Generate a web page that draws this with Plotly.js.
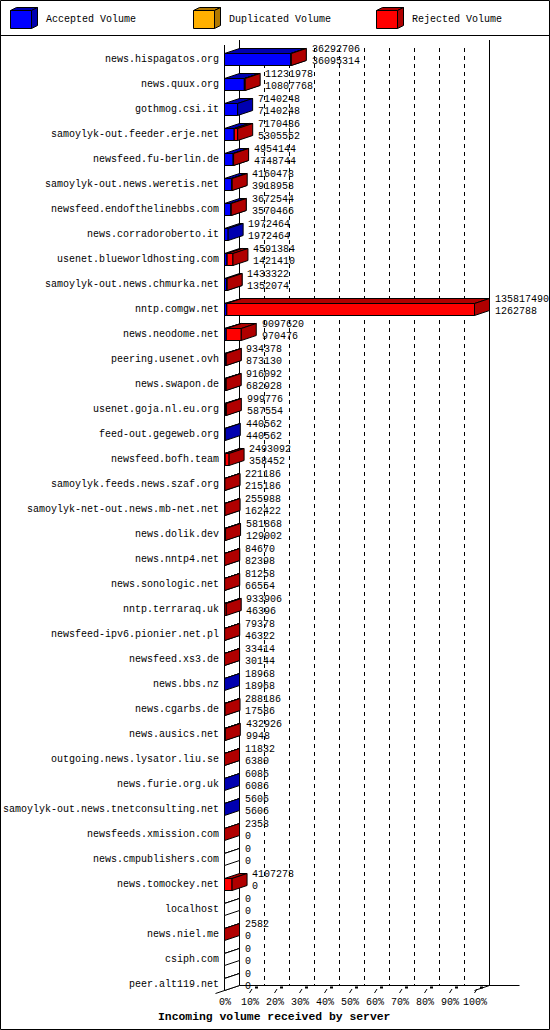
<!DOCTYPE html>
<html lang="en">
<head>
    <meta charset="UTF-8">
    <title>Incoming volume received by server</title>
    <script src="https://cdn.plot.ly/plotly-3.0.1.min.js"></script>
    <style>body{margin:0;background:#fff}</style>
</head>
<body>
<div id="plot"></div>
<script>
    // servers, top to bottom
    hosts = ['news.hispagatos.org', 'news.quux.org', 'gothmog.csi.it', 'samoylyk-out.feeder.erje.net',
        'newsfeed.fu-berlin.de', 'samoylyk-out.news.weretis.net', 'newsfeed.endofthelinebbs.com',
        'news.corradoroberto.it', 'usenet.blueworldhosting.com', 'samoylyk-out.news.chmurka.net',
        'nntp.comgw.net', 'news.neodome.net', 'peering.usenet.ovh', 'news.swapon.de', 'usenet.goja.nl.eu.org',
        'feed-out.gegeweb.org', 'newsfeed.bofh.team', 'samoylyk.feeds.news.szaf.org',
        'samoylyk-net-out.news.mb-net.net', 'news.dolik.dev', 'news.nntp4.net', 'news.sonologic.net',
        'nntp.terraraq.uk', 'newsfeed-ipv6.pionier.net.pl', 'newsfeed.xs3.de', 'news.bbs.nz', 'news.cgarbs.de',
        'news.ausics.net', 'outgoing.news.lysator.liu.se', 'news.furie.org.uk',
        'samoylyk-out.news.tnetconsulting.net', 'newsfeeds.xmission.com', 'news.cmpublishers.com',
        'news.tomockey.net', 'localhost', 'news.niel.me', 'csiph.com', 'peer.alt119.net']

    // total volume (top number) and accepted volume (bottom number)
    totalVol = [36292706, 11231978, 7140248, 7170486, 4954144, 4160478, 3672544, 1972464, 4591384, 1433322,
        135817490, 9097620, 934378, 916092, 999776, 440562, 2493092, 221186, 255988, 581868,
        84670, 81258, 933906, 79378, 33414, 18968, 288186, 432926, 11832, 6086,
        5606, 2358, 0, 4107278, 0, 2582, 0, 0]
    acceptedVol = [36095314, 10807768, 7140248, 5305552, 4748744, 3918958, 3570466, 1972464, 1421410, 1352074,
        1262788, 970476, 873130, 682928, 587554, 440562, 358452, 215186, 162422, 129002,
        82398, 66554, 46396, 46322, 30144, 18968, 17586, 9948, 6380, 6086,
        5606, 0, 0, 0, 0, 0, 0, 0]
    duplicatedVol = hosts.map(() => 0)

    seriesNames = ['Accepted Volume', 'Duplicated Volume', 'Rejected Volume']
    frontColors = ['#0000ff', '#ffb000', '#ff0000']
    darkColors = ['#0000b0', '#b07800', '#b00000']
    tickLabels = ['0%', '10%', '20%', '30%', '40%', '50%', '60%', '70%', '80%', '90%', '100%']

    // page geometry (pixels)
    const W = 550, H = 1030
    const X0 = 224.5, PXPCT = 2.5, Y0 = 59.5, ROW = 25
    const px2x = p => (p - X0) / PXPCT
    const px2y = p => (p - Y0) / ROW
    const DX = 15 / PXPCT, DY = -5 / ROW, HH = 6 / ROW
    const maxVol = Math.max(...totalVol)
    const font = {family: 'Liberation Mono, DejaVu Sans Mono, monospace', size: 10, color: '#000'}

    traces = []
    function poly(xs, ys, color) {
        traces.push({
            type: 'scatter', mode: 'lines', x: xs.concat(xs[0]), y: ys.concat(ys[0]),
            fill: 'toself', fillcolor: color, line: {color: '#000', width: 1},
            hoverinfo: 'skip', showlegend: false
        })
    }
    function box(a, b, i, front, dark) {
        const yt = i - HH, yb = i + HH
        poly([a, a + DX, b + DX, b], [yt, yt + DY, yt + DY, yt], dark)
        poly([a, b, b, a], [yt, yt, yb, yb], front)
        poly([b, b + DX, b + DX, b], [yt, yt + DY, yb + DY, yb], dark)
    }

    annotations = []
    hosts.forEach((h, i) => {
        const parts = [acceptedVol[i], duplicatedVol[i], totalVol[i] - acceptedVol[i] - duplicatedVol[i]]
        let pos = 0
        if (totalVol[i] === 0) {
            box(0, 0, i, '#ffffff', '#ffffff')
        } else {
            parts.forEach((v, s) => {
                if (v <= 0) return
                const end = pos + v / maxVol * 100
                box(pos, end, i, frontColors[s], darkColors[s])
                pos = end
            })
        }
        const lx = totalVol[i] / maxVol * 100 + DX + 1.3
        annotations.push({x: px2x(X0 - 3.2), y: i, text: h, xanchor: 'right', yanchor: 'middle', showarrow: false, font: font})
        annotations.push({x: lx, y: i - 0.4, text: String(totalVol[i]), xanchor: 'left', yanchor: 'middle', showarrow: false, font: font})
        annotations.push({x: lx, y: i + 0.07, text: String(acceptedVol[i]), xanchor: 'left', yanchor: 'middle', showarrow: false, font: font})
    })

    tickLabels.forEach((t, k) => {
        annotations.push({x: k * 10, y: px2y(1002), text: t, xanchor: 'center', yanchor: 'middle', showarrow: false, font: font})
    })
    annotations.push({
        x: 274.5 / W, xref: 'paper', y: px2y(1017), text: 'Incoming volume received by server',
        xanchor: 'center', yanchor: 'middle', showarrow: false,
        font: {family: 'Liberation Mono, DejaVu Sans Mono, monospace', size: 11.4, color: '#000', weight: 'bold'}
    })

    // frame, axes, grid
    const line = {color: '#000', width: 1}
    shapes = []
    const seg = (x0, y0, x1, y1, extra) => shapes.push(Object.assign({type: 'line', xref: 'x', yref: 'y', x0, y0, x1, y1, line: line, layer: 'below'}, extra || {}))
    seg(0, px2y(45), 0, px2y(990.5))
    seg(DX, px2y(40), DX, px2y(985.5))
    seg(100 + DX, px2y(40), 100 + DX, px2y(985.5))
    for (let k = 1; k <= 9; k++) {
        seg(k * 10 + DX, px2y(48), k * 10 + DX, px2y(985.5), {line: {color: '#000', width: 1, dash: '4px,4px'}})
    }
    seg(DX, px2y(985.5), px2x(519.5), px2y(985.5))
    seg(100 + DX, px2y(985.5), 100, px2y(990.5))
    seg(-0.6 * DX, px2y(990.5) - 0.6 * DY, DX, px2y(985.5))
    for (let k = 1; k <= 10; k++) {
        seg(k * 10, px2y(993), k * 10 + 1.0, px2y(989))
        shapes.push({type: 'rect', xref: 'x', yref: 'y', x0: k * 10 + 2.2, x1: k * 10 + 3.4,
            y0: px2y(986.5), y1: px2y(988.5), fillcolor: '#000', line: {width: 0}, layer: 'below'})
    }

    // page border and legend strip
    const P = (x, y) => (x / W) + ' ' + (1 - y / H)
    shapes.push({type: 'rect', xref: 'paper', yref: 'paper', x0: 0.5 / W, x1: 549.5 / W, y0: 1 - 1029.5 / H, y1: 1 - 0.5 / H, line: line})
    shapes.push({type: 'line', xref: 'paper', yref: 'paper', x0: 0, x1: 1, y0: 1 - 35.5 / H, y1: 1 - 35.5 / H, line: line})
    const legendX = [10.5, 193.5, 376.5]
    seriesNames.forEach((n, s) => {
        const x = legendX[s], t = 10.5, b = 28.5, w = 21, dx = 6, dy = -3
        const path = pts => 'M ' + pts.map(p => P(p[0], p[1])).join(' L ') + ' Z'
        shapes.push({type: 'path', xref: 'paper', yref: 'paper', path: path([[x, t], [x + dx, t + dy], [x + w + dx, t + dy], [x + w, t]]), fillcolor: darkColors[s], line: line})
        shapes.push({type: 'path', xref: 'paper', yref: 'paper', path: path([[x + w, t], [x + w + dx, t + dy], [x + w + dx, b + dy], [x + w, b]]), fillcolor: darkColors[s], line: line})
        shapes.push({type: 'path', xref: 'paper', yref: 'paper', path: path([[x, t], [x + w, t], [x + w, b], [x, b]]), fillcolor: frontColors[s], line: line})
        annotations.push({x: (x + 33) / W, xref: 'paper', y: 1 - 20 / H, yref: 'paper', text: n,
            xanchor: 'left', yanchor: 'middle', showarrow: false, font: font})
    })

    const layout = {
        width: W, height: H,
        margin: {l: 0, r: 0, t: 0, b: 0},
        paper_bgcolor: '#fff', plot_bgcolor: '#fff',
        xaxis: {range: [px2x(0), px2x(W)], visible: false, fixedrange: true},
        yaxis: {range: [px2y(H), px2y(0)], visible: false, fixedrange: true},
        showlegend: false,
        shapes: shapes,
        annotations: annotations
    }

    Plotly.newPlot('plot', traces, layout, {displayModeBar: false, staticPlot: true})
</script>
</body>
</html>
